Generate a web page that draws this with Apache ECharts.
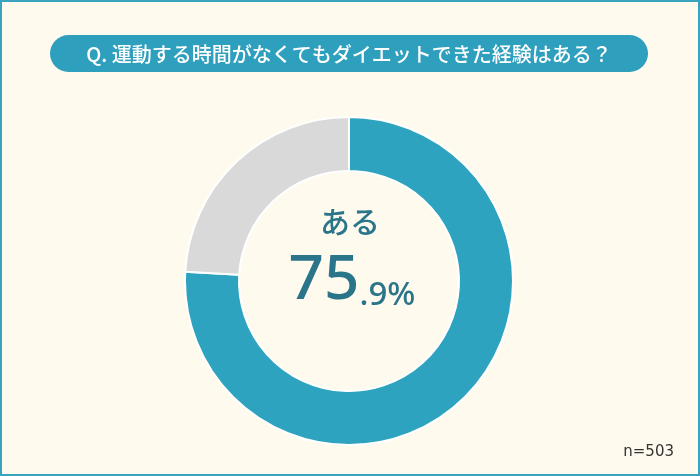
<!DOCTYPE html>
<html><head><meta charset="utf-8">
<script src="https://cdn.jsdelivr.net/npm/echarts@6/dist/echarts.min.js"></script>
<style>html,body{margin:0;padding:0;background:#fefbee;}#c{width:700px;height:476px;}</style>
</head><body><div id="c"></div>
<script>
const categories = ['ある', 'ない'];
const values = [75.9, 24.1];
const colors = ['#2ea3c0', '#d9d9d9'];
const question = 'Q. 運動する時間がなくてもダイエットできた経験はある？';
const sampleNote = 'n=503';

const chart = echarts.init(document.getElementById('c'));
const main = String(values[0]).split('.');
chart.setOption({
  backgroundColor: '#fefbee',
  animation: false,
  graphic: [
    { type: 'rect', shape: { x: 1, y: 1, width: 698, height: 474 }, style: { fill: 'none', stroke: '#3aa3bf', lineWidth: 2 } },
    { type: 'rect', shape: { x: 50, y: 35, width: 598, height: 37, r: 18.5 }, style: { fill: '#2e9fbd' } },
    { type: 'text', x: 349, y: 54, style: { text: question, fill: '#ffffff', font: '500 20px "Noto Sans CJK JP"', align: 'center', verticalAlign: 'middle' } },
    { type: 'text', x: 350, y: 222, style: { text: categories[0], fill: '#2a7589', font: '500 30px "Noto Sans CJK JP"', align: 'center', verticalAlign: 'middle' } },
    { type: 'text', x: 352, y: 312, style: {
        text: '{a|' + main[0] + '}{b|.' + main[1] + '%}', align: 'center', verticalAlign: 'bottom',
        rich: {
          a: { fill: '#2a7589', font: '500 62px "Noto Sans"', verticalAlign: 'bottom' },
          b: { fill: '#2a7589', font: '500 33px "Noto Sans"', verticalAlign: 'bottom' }
        } } },
    { type: 'text', x: 674, y: 452, style: { text: sampleNote, fill: '#333', font: '15px "DejaVu Sans"', align: 'right', verticalAlign: 'middle' } }
  ],
  series: [{
    type: 'pie',
    center: [349, 281],
    radius: [110, 164],
    startAngle: 90,
    clockwise: true,
    label: { show: false },
    labelLine: { show: false },
    itemStyle: { borderColor: '#ffffff', borderWidth: 2 },
    data: categories.map((c, i) => ({ name: c, value: values[i], itemStyle: { color: colors[i] } }))
  }]
});
</script></body></html>
